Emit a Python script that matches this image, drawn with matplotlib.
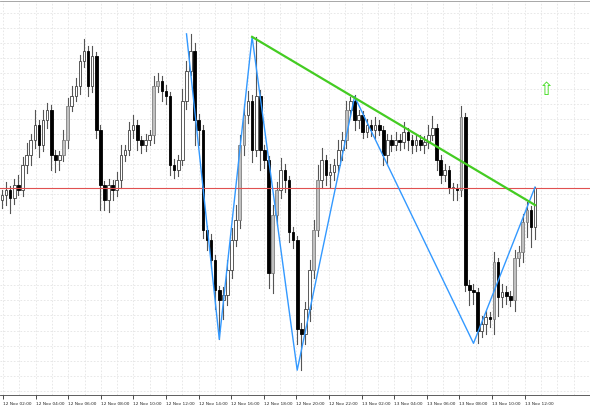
import numpy as np
import matplotlib
matplotlib.use('Agg')
import matplotlib.pyplot as plt
from matplotlib.patches import Rectangle

# closes, in screen pixel rows (smaller = higher price)
close_px = [195, 190, 198, 185, 190, 165, 155, 140, 125, 145, 120, 110, 155, 160, 155, 140,
            105, 95, 85, 60, 50, 85, 55, 130, 185, 200, 185, 190, 180, 155, 150, 130,
            125, 140, 145, 140, 135, 85, 80, 90, 95, 165, 170, 160, 100, 70, 50, 120,
            130, 230, 240, 260, 290, 300, 295, 270, 240, 220, 145, 115, 100, 150, 95, 150,
            160, 273, 215, 190, 170, 180, 232, 240, 330, 335, 310, 270, 230, 180, 160, 175,
            172, 165, 150, 140, 110, 100, 120, 115, 132, 125, 130, 125, 130, 155, 140, 145,
            140, 142, 132, 140, 145, 140, 145, 142, 135, 128, 160, 175, 170, 188, 188, 190,
            117, 285, 290, 292, 332, 325, 318, 320, 262, 297, 292, 296, 300, 258, 252, 222,
            210, 227, 188]
up_wick = [5, 8, 4, 6, 10, 8, 12, 6, 15, 5, 10, 8, 6, 5, 4, 10,
           8, 10, 8, 6, 12, 5, 10, 4, 5, 4, 6, 5, 8, 10, 5, 8,
           10, 5, 4, 6, 5, 10, 8, 5, 6, 4, 6, 5, 12, 10, 17, 8,
           6, 5, 4, 6, 5, 4, 8, 10, 12, 15, 10, 12, 10, 6, 59, 6,
           5, 4, 10, 8, 12, 6, 4, 5, 4, 6, 8, 10, 10, 15, 12, 5,
           8, 6, 10, 8, 10, 4, 6, 5, 4, 6, 5, 8, 5, 4, 6, 5,
           8, 6, 10, 4, 5, 6, 5, 6, 10, 12, 4, 5, 6, 4, 5, 4,
           12, 4, 5, 6, 4, 8, 6, 5, 10, 4, 8, 6, 5, 8, 6, 8,
           8, 4, 1]
down_wick = [8, 10, 15, 6, 5, 6, 8, 10, 8, 12, 6, 8, 15, 12, 10, 6,
             8, 6, 5, 8, 6, 10, 6, 8, 25, 10, 12, 10, 6, 8, 6, 5,
             8, 10, 8, 6, 5, 8, 6, 10, 8, 10, 8, 6, 5, 8, 4, 25,
             15, 8, 10, 8, 20, 40, 20, 10, 8, 6, 8, 10, 8, 12, 6, 20,
             8, 15, 20, 10, 8, 12, 10, 8, 15, 36, 10, 12, 8, 6, 8, 10,
             12, 8, 6, 10, 8, 6, 10, 8, 6, 5, 6, 8, 5, 10, 8, 6,
             5, 8, 6, 10, 8, 6, 5, 8, 6, 5, 10, 8, 6, 5, 12, 10,
             6, 6, 15, 12, 12, 6, 10, 8, 15, 20, 10, 8, 6, 12, 8, 10,
             15, 20, 12]
gray_idx = [15, 16, 37, 38, 58, 59, 66, 67, 76, 77, 84, 112, 120, 125, 126, 127, 128]

# zigzag and trend line (bar index, pixel row)
zig_bar = [45, 53, 61, 72, 86, 115, 130]
zig_px = [33, 340, 36, 371, 96, 344, 187]
trend_bar = [61, 130]
trend_px = [36, 205]
level_px = 188

time_labels = ['12 Nov 02:00', '12 Nov 04:00', '12 Nov 06:00', '12 Nov 08:00', '12 Nov 10:00',
               '12 Nov 12:00', '12 Nov 14:00', '12 Nov 16:00', '12 Nov 18:00', '12 Nov 20:00',
               '12 Nov 22:00', '13 Nov 02:00', '13 Nov 04:00', '13 Nov 06:00', '13 Nov 08:00',
               '13 Nov 10:00', '13 Nov 12:00']

# convert pixel rows to price-like values
close = 400 - np.array(close_px, dtype=float)
opn = np.concatenate([[200.0], close[:-1]])
high = np.maximum(opn, close) + np.array(up_wick)
low = np.minimum(opn, close) - np.array(down_wick)

step = 4.1
xs = 2 + step * np.arange(len(close))

fig = plt.figure(figsize=(5.9, 4.1), dpi=100)
ax = fig.add_axes([0, 0.034, 1, 0.961])
ax.set_xlim(0, 590)
ax.set_ylim(400 - 396, 400)

# grid
for gx in np.arange(3, 590, 16.3):
    ax.axvline(gx, color='#e4e4e4', lw=0.6, ls=(0, (2, 2)), zorder=0)
for gy in np.arange(400 - 392, 400, 15.2):
    ax.axhline(gy, color='#e4e4e4', lw=0.6, ls=(0, (2, 2)), zorder=0)

w = 2.6
for i, x in enumerate(xs):
    o, c, h, l = opn[i], close[i], high[i], low[i]
    ax.plot([x, x], [l, h], color='#555555', lw=0.8, zorder=2)
    if c >= o:
        face = '#c0c0c0' if i in gray_idx else 'white'
        edge = '#808080' if i in gray_idx else '#404040'
    else:
        face, edge = 'black', 'black'
    ax.add_patch(Rectangle((x - w / 2, min(o, c)), w, max(abs(c - o), 0.8),
                           facecolor=face, edgecolor=edge, lw=0.6, zorder=3))

ax.axhline(400 - level_px, color='#e05050', lw=0.8, zorder=4)
ax.plot(xs[zig_bar], 400 - np.array(zig_px), color='#3399ff', lw=1.0, zorder=5)
ax.plot(xs[trend_bar], 400 - np.array(trend_px), color='#44cc22', lw=1.6, zorder=5)
ax.text(546, 400 - 88, '⇧', color='#44dd22', fontsize=13, ha='center', va='center', zorder=6)

ax.set_yticks([])
tick_x = 3 + 32.6 * np.arange(len(time_labels))
ax.set_xticks(tick_x)
ax.set_xticklabels(time_labels, fontsize=3.1, ha='left', color='#222222')
ax.tick_params(axis='x', length=3, width=0.5, pad=1.5)
for s in ['left', 'right']:
    ax.spines[s].set_visible(False)
ax.spines['top'].set_color('#999999')
ax.spines['bottom'].set_color('#444444')
ax.spines['top'].set_linewidth(0.6)
ax.spines['bottom'].set_linewidth(0.6)

fig.savefig('out.png', dpi=100)
